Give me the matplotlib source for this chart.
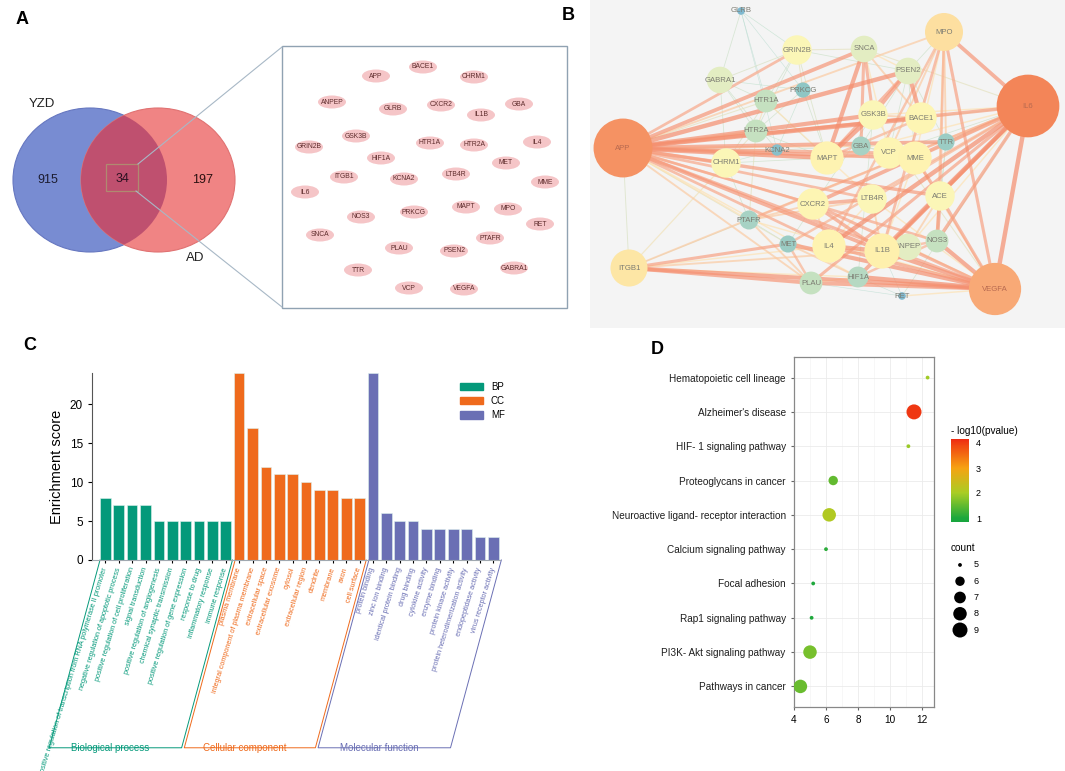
import numpy as np
import matplotlib.pyplot as plt
from matplotlib.patches import Ellipse, Circle, Rectangle, Patch
from matplotlib.colors import LinearSegmentedColormap, Normalize
from matplotlib.cm import ScalarMappable

plt.rcParams['font.family'] = ['Liberation Sans', 'DejaVu Sans']

W, H = 1065, 771

# ---------------- A: Venn diagram ----------------
venn_names = ['YZD', 'AD']
venn_counts = [915, 34, 197]

# the shared targets, laid out as in the figure (pixel layout)
box_genes = ['APP', 'BACE1', 'CHRM1', 'ANPEP', 'GLRB', 'CXCR2', 'IL1B', 'GBA',
             'GSK3B', 'GRIN2B', 'HTR1A', 'HTR2A', 'IL4', 'HIF1A', 'MET', 'ITGB1',
             'KCNA2', 'LTB4R', 'MME', 'IL6', 'MAPT', 'MPO', 'NOS3', 'PRKCG', 'RET',
             'SNCA', 'PTAFR', 'PLAU', 'PSEN2', 'TTR', 'GABRA1', 'VCP', 'VEGFA']
box_x = [376, 423, 474, 332, 393, 441, 481, 519, 356, 309, 430, 474, 537, 381,
         506, 344, 404, 456, 545, 305, 466, 508, 361, 414, 540, 320, 490, 399,
         454, 358, 514, 409, 464]
box_y = [76, 67, 77, 102, 109, 105, 115, 104, 136, 147, 143, 145, 142, 158,
         163, 177, 179, 174, 182, 192, 207, 209, 217, 212, 224, 235, 238, 248,
         251, 270, 268, 288, 289]

# ---------------- B: PPI network ----------------
net_genes = ['GLRB', 'GRIN2B', 'SNCA', 'MPO', 'GABRA1', 'PSEN2', 'PRKCG', 'HTR1A',
             'IL6', 'GSK3B', 'BACE1', 'HTR2A', 'APP', 'KCNA2', 'GBA', 'VCP', 'MME',
             'TTR', 'MAPT', 'CHRM1', 'CXCR2', 'LTB4R', 'ACE', 'PTAFR', 'MET', 'IL4',
             'ANPEP', 'IL1B', 'NOS3', 'ITGB1', 'PLAU', 'HIF1A', 'RET', 'VEGFA']
net_x = [741, 797, 864, 944, 720, 908, 803, 766, 1028, 873, 921, 756, 623, 777,
         861, 889, 915, 946, 827, 726, 813, 872, 940, 749, 788, 829, 908, 882,
         937, 629, 811, 858, 902, 995]
net_y = [11, 50, 49, 32, 80, 71, 90, 101, 106, 115, 118, 131, 148, 150, 146,
         153, 158, 142, 158, 163, 204, 199, 196, 220, 244, 246, 247, 251, 241,
         268, 283, 277, 296, 289]
net_degree = [4, 15.5, 14, 20, 14, 14, 8, 12, 33, 15.5, 16.5, 12, 31, 6, 10,
              16.5, 17.5, 9, 17.5, 15.5, 16.5, 15.5, 15.5, 10, 9, 17.5, 14, 18.5,
              12, 19.5, 12, 11, 4, 27.5]

net_edges = [
    ('APP', 'GSK3B', .95), ('APP', 'BACE1', .98), ('APP', 'MAPT', .97), ('APP', 'PSEN2', .98),
    ('APP', 'SNCA', .9), ('APP', 'IL6', .85), ('APP', 'MME', .9), ('APP', 'VCP', .8),
    ('APP', 'LTB4R', .75), ('APP', 'CXCR2', .7), ('APP', 'IL1B', .9), ('APP', 'VEGFA', .8),
    ('APP', 'IL4', .75), ('APP', 'CHRM1', .8), ('APP', 'GBA', .6), ('APP', 'TTR', .9),
    ('APP', 'ACE', .85), ('APP', 'HTR2A', .6), ('APP', 'NOS3', .75), ('APP', 'MPO', .6),
    ('APP', 'GRIN2B', .75), ('APP', 'PTAFR', .5), ('APP', 'HIF1A', .5), ('APP', 'PLAU', .6),
    ('APP', 'MET', .4), ('APP', 'KCNA2', .3), ('APP', 'HTR1A', .4), ('APP', 'ITGB1', .35),
    ('IL6', 'IL4', .98), ('IL6', 'IL1B', .99), ('IL6', 'VEGFA', .98), ('IL6', 'MPO', .9),
    ('IL6', 'ITGB1', .6), ('IL6', 'CXCR2', .9), ('IL6', 'ACE', .7), ('IL6', 'MAPT', .5),
    ('IL6', 'NOS3', .85), ('IL6', 'HIF1A', .9), ('IL6', 'PLAU', .8), ('IL6', 'MET', .7),
    ('IL6', 'PTAFR', .7), ('IL6', 'TTR', .35), ('IL6', 'BACE1', .4), ('IL6', 'MME', .5),
    ('IL6', 'LTB4R', .7), ('IL6', 'GSK3B', .5), ('IL6', 'ANPEP', .5), ('IL6', 'RET', .3),
    ('IL6', 'SNCA', .4), ('IL6', 'VCP', .3),
    ('VEGFA', 'ITGB1', .95), ('VEGFA', 'HIF1A', .99), ('VEGFA', 'PLAU', .9), ('VEGFA', 'MET', .95),
    ('VEGFA', 'IL1B', .95), ('VEGFA', 'IL4', .85), ('VEGFA', 'NOS3', .95), ('VEGFA', 'ACE', .8),
    ('VEGFA', 'MPO', .8), ('VEGFA', 'CXCR2', .8), ('VEGFA', 'ANPEP', .6), ('VEGFA', 'RET', .5),
    ('VEGFA', 'GSK3B', .4), ('VEGFA', 'LTB4R', .5), ('VEGFA', 'MME', .6), ('VEGFA', 'PTAFR', .5),
    ('ITGB1', 'PLAU', .9), ('ITGB1', 'IL1B', .6), ('ITGB1', 'MET', .8), ('ITGB1', 'HIF1A', .5),
    ('ITGB1', 'CHRM1', .45), ('ITGB1', 'IL4', .5), ('ITGB1', 'PTAFR', .3),
    ('MPO', 'IL1B', .75), ('MPO', 'IL4', .7), ('MPO', 'MME', .5), ('MPO', 'TTR', .6),
    ('MPO', 'ACE', .7), ('MPO', 'VCP', .6), ('MPO', 'NOS3', .6), ('MPO', 'PSEN2', .3),
    ('MAPT', 'GSK3B', .99), ('MAPT', 'SNCA', .95), ('MAPT', 'PSEN2', .8), ('MAPT', 'BACE1', .7),
    ('MAPT', 'VCP', .6), ('GSK3B', 'PSEN2', .9), ('GSK3B', 'SNCA', .8), ('BACE1', 'PSEN2', .95),
    ('BACE1', 'SNCA', .6), ('BACE1', 'GSK3B', .6), ('SNCA', 'PSEN2', .5), ('SNCA', 'GBA', .8),
    ('SNCA', 'VCP', .5), ('IL1B', 'IL4', .95), ('IL1B', 'CXCR2', .85), ('IL1B', 'LTB4R', .6),
    ('IL1B', 'MME', .5), ('IL1B', 'ANPEP', .5), ('IL1B', 'NOS3', .7), ('IL4', 'CXCR2', .6),
    ('IL4', 'LTB4R', .5), ('CXCR2', 'LTB4R', .85), ('CXCR2', 'PTAFR', .6), ('LTB4R', 'PTAFR', .6),
    ('ACE', 'MME', .8), ('ACE', 'NOS3', .9), ('ACE', 'ANPEP', .6), ('ACE', 'IL1B', .5),
    ('PTAFR', 'HTR2A', .4), ('PTAFR', 'CHRM1', .3), ('PTAFR', 'PLAU', .6), ('PLAU', 'MET', .7),
    ('MET', 'HIF1A', .6), ('HIF1A', 'NOS3', .7), ('HIF1A', 'PLAU', .5),
    ('GLRB', 'GABRA1', .3), ('GLRB', 'GRIN2B', .25), ('GLRB', 'HTR1A', .2), ('GLRB', 'PRKCG', .2),
    ('GLRB', 'KCNA2', .2), ('GRIN2B', 'GABRA1', .35), ('GRIN2B', 'PRKCG', .4), ('GRIN2B', 'HTR1A', .3),
    ('GRIN2B', 'HTR2A', .3), ('GRIN2B', 'SNCA', .4), ('GRIN2B', 'PSEN2', .3), ('GRIN2B', 'MAPT', .35),
    ('GABRA1', 'HTR1A', .3), ('GABRA1', 'HTR2A', .3), ('GABRA1', 'CHRM1', .3), ('GABRA1', 'KCNA2', .3),
    ('GABRA1', 'PRKCG', .25), ('HTR1A', 'HTR2A', .45), ('HTR1A', 'CHRM1', .35), ('HTR2A', 'CHRM1', .4),
    ('PRKCG', 'HTR2A', .3), ('PRKCG', 'KCNA2', .25), ('PRKCG', 'MAPT', .3), ('HTR1A', 'MAPT', .3),
    ('CHRM1', 'KCNA2', .25), ('PSEN2', 'VCP', .3), ('PSEN2', 'MME', .3), ('PSEN2', 'GBA', .3),
    ('GBA', 'MME', .3), ('GBA', 'TTR', .25), ('VCP', 'GBA', .3), ('RET', 'PLAU', .2),
    ('RET', 'HIF1A', .2), ('RET', 'IL1B', .2), ('MET', 'PTAFR', .25), ('ACE', 'TTR', .3),
    ('PSEN2', 'TTR', .3), ('MET', 'GSK3B', .3), ('HTR2A', 'MAPT', .3), ('CHRM1', 'MAPT', .3),
    ('KCNA2', 'GBA', .25), ('HIF1A', 'GSK3B', .3), ('TTR', 'NOS3', .25), ('HTR1A', 'LTB4R', .5),
]

# ---------------- C: GO enrichment ----------------
go_groups = ['BP', 'CC', 'MF']
go_group_names = ['Biological process', 'Cellular component', 'Molecular function']
go_colors = ['#04997a', '#ef6a1c', '#6a6fb4']
bp_terms = ['positive regulation of transcription from RNA polymerase II promoter',
            'negative regulation of apoptotic process',
            'positive regulation of cell proliferation', 'signal transduction',
            'positive regulation of angiogenesis', 'chemical synaptic transmission',
            'positive regulation of gene expression', 'response to drug',
            'inflammatory response', 'immune response']
bp_scores = [8, 7, 7, 7, 5, 5, 5, 5, 5, 5]
cc_terms = ['plasma membrane', 'integral component of plasma membrane',
            'extracellular space', 'extracellular exosome', 'cytosol',
            'extracellular region', 'dendrite', 'membrane', 'axon', 'cell surface']
cc_scores = [24, 17, 12, 11, 11, 10, 9, 9, 8, 8]
mf_terms = ['protein binding', 'zinc ion binding', 'identical protein binding',
            'drug binding', 'cytokine activity', 'enzyme binding',
            'protein kinase activity', 'protein heterodimerization activity',
            'endopeptidase activity', 'virus receptor activity']
mf_scores = [24, 6, 5, 5, 4, 4, 4, 4, 3, 3]

# ---------------- D: KEGG bubble ----------------
kegg_terms = ['Hematopoietic cell lineage', "Alzheimer's disease",
              'HIF- 1 signaling pathway', 'Proteoglycans in cancer',
              'Neuroactive ligand- receptor interaction', 'Calcium signaling pathway',
              'Focal adhesion', 'Rap1 signaling pathway', 'PI3K- Akt signaling pathway',
              'Pathways in cancer']
kegg_x = [12.35, 11.5, 11.15, 6.45, 6.2, 6.0, 5.2, 5.1, 5.0, 4.4]
kegg_count = [5, 9, 5, 6, 8, 5, 5, 5, 8, 8]
kegg_logp = [1.95, 4.05, 1.9, 1.5, 2.1, 1.1, 1.0, 1.0, 1.65, 1.55]
size_levels = [5, 6, 7, 8, 9]


fig = plt.figure(figsize=(W / 100, H / 100), dpi=100)


def px_axes(x0, y0, x1, y1, **kw):
    return fig.add_axes([x0 / W, 1 - y1 / H, (x1 - x0) / W, (y1 - y0) / H], **kw)


def letter(x, y, s):
    fig.text(x / W, 1 - y / H, s, fontsize=13, fontweight='bold', ha='center', va='center')


# ===== Panel A =====
axa = px_axes(0, 0, 590, 330)
axa.set_xlim(0, 590)
axa.set_ylim(330, 0)
axa.axis('off')
blue = Ellipse((90, 180), 154, 144, facecolor='#788cd2', edgecolor='#6677c0', lw=0.8)
red = Ellipse((158, 180), 154, 144, facecolor='#f08484', edgecolor='#e07272', lw=0.8)
axa.add_patch(blue)
axa.add_patch(red)
lens = Ellipse((158, 180), 154, 144, facecolor='#bf506f', edgecolor='none')
axa.add_patch(lens)
lens.set_clip_path(blue)
axa.text(48, 180, str(venn_counts[0]), fontsize=9, ha='center', va='center', color='#1c1c30')
axa.text(122, 179, str(venn_counts[1]), fontsize=9, ha='center', va='center', color='#2a1020')
axa.text(203, 180, str(venn_counts[2]), fontsize=9, ha='center', va='center', color='#2a1010')
axa.text(42, 104, venn_names[0], fontsize=9.5, ha='center', va='center', color='#222222')
axa.text(195, 258, venn_names[1], fontsize=9.5, ha='center', va='center', color='#222222')
axa.add_patch(Rectangle((106, 164), 32, 27, fill=False, edgecolor='#b08a70', lw=0.9))
axa.plot([138, 282], [164, 47], color='#a8b8c6', lw=0.8)
axa.plot([136, 282], [191, 307], color='#a8b8c6', lw=0.8)
axa.add_patch(Rectangle((282, 46), 285, 262, fill=False, edgecolor='#90a2b2', lw=1.0))
for g, x, y in zip(box_genes, box_x, box_y):
    axa.add_patch(Ellipse((x, y), 28, 13, facecolor='#f5c5c7', edgecolor='none'))
    axa.text(x, y, g, fontsize=4.9, ha='center', va='center', color='#5e2c2c')
letter(22, 20, 'A')

# ===== Panel B =====
axb = px_axes(590, 0, 1065, 328)
axb.set_facecolor('#f4f4f4')
axb.set_xlim(590, 1065)
axb.set_ylim(328, 0)
axb.set_xticks([])
axb.set_yticks([])
for s in axb.spines.values():
    s.set_visible(False)
pos = {g: (x, y) for g, x, y in zip(net_genes, net_x, net_y)}
edge_cmap = LinearSegmentedColormap.from_list(
    'edge', ['#9fcbe0', '#bfe0cc', '#fde2b4', '#f8a88a', '#f48c6c'])
for a, b, sc in sorted(net_edges, key=lambda e: e[2]):
    (x1, y1), (x2, y2) = pos[a], pos[b]
    axb.plot([x1, x2], [y1, y2], color=edge_cmap(sc), lw=0.3 + 3.0 * sc ** 2,
             alpha=0.7, zorder=1, solid_capstyle='butt')
node_cmap = LinearSegmentedColormap.from_list('node', [
    (0.0, '#7fb9d0'), (0.14, '#8fc6c4'), (0.21, '#a9d3c4'), (0.28, '#c7e2c0'),
    (0.345, '#e3edc2'), (0.40, '#fdf7b6'), (0.50, '#fef1ae'), (0.55, '#fde0a0'),
    (0.80, '#f8ab78'), (1.0, '#f38558')])
node_norm = Normalize(4, 33)
order = np.argsort(net_degree)
for i in order:
    g, x, y, d = net_genes[i], net_x[i], net_y[i], net_degree[i]
    z = 2 + d / 10
    axb.add_patch(Circle((x, y), 0.95 * d, facecolor=node_cmap(node_norm(d)),
                         edgecolor='none', zorder=z))
    tc = '#b86a50' if d > 25 else '#7c7c72'
    axb.text(x, y, g, fontsize=5.6, ha='center', va='center', color=tc, zorder=z + 0.01)
letter(568, 15, 'B')

# ===== Panel C =====
axc = px_axes(92, 373, 500, 560)
scores = bp_scores + cc_scores + mf_scores
terms = bp_terms + cc_terms + mf_terms
xs = np.arange(len(scores))
lab_colors = []
for k, (grp, sc) in enumerate(zip(go_groups, [bp_scores, cc_scores, mf_scores])):
    xi = xs[k * 10:(k + 1) * 10]
    axc.bar(xi, sc, width=0.8, color=go_colors[k], edgecolor='#dff2ee', lw=0.4, label=grp)
    lab_colors += [go_colors[k]] * len(sc)
axc.set_xlim(-1, 29.5)
axc.set_ylim(0, 24)
axc.set_yticks([0, 5, 10, 15, 20])
axc.tick_params(axis='y', labelsize=8.5, length=3, width=0.8)
axc.set_xticks(xs)
axc.set_xticklabels(terms, rotation=73, ha='right', va='center', rotation_mode='anchor',
                    fontsize=5.2)
axc.tick_params(axis='x', length=2.5, width=0.8, pad=3)
for lbl, col in zip(axc.get_xticklabels(), lab_colors):
    lbl.set_color(col)
axc.set_ylabel('Enrichment score', fontsize=10.5)
axc.spines['top'].set_visible(False)
axc.spines['right'].set_visible(False)
axc.spines['bottom'].set_color('#a0a8b0')
axc.spines['left'].set_color('#555555')
axc.legend(handles=[Patch(color=c, label=g) for c, g in zip(go_colors, go_groups)],
           loc='upper left', bbox_to_anchor=(0.88, 1.0), frameon=False, fontsize=7,
           handlelength=2.4, handleheight=0.8, labelspacing=0.45)
bounds = [(-0.4, 9.5), (9.7, 19.5), (19.7, 29.6)]
shift, ybot = 3.8, -24.1
for (l, r), col, name in zip(bounds, go_colors, go_group_names):
    axc.plot([l, l - shift, r - shift, r], [0, ybot, ybot, 0], color=col, lw=0.7,
             clip_on=False)
    axc.text((l + r) / 2 - shift - 0.4, ybot, name, fontsize=7, color=col, ha='center',
             va='center')
letter(30, 345, 'C')

# ===== Panel D =====
axd = px_axes(794, 357, 934, 707)
ypos = np.arange(len(kegg_terms), 0, -1)
p_cmap = LinearSegmentedColormap.from_list('pv', [
    (0.0, '#17a53e'), (0.05, '#1ea83c'), (0.35, '#a9cd24'), (0.65, '#f6a312'),
    (0.95, '#f03e12'), (1.0, '#ee2a12')])
p_norm = Normalize(0.84, 4.16)


def dot_area(c):
    d_px = 3.8 + 11.2 * np.sqrt((np.asarray(c, float) - 5) / 4)
    return (d_px * 0.72) ** 2


axd.scatter(kegg_x, ypos, s=dot_area(kegg_count), c=kegg_logp, cmap=p_cmap, norm=p_norm,
            edgecolors='none', zorder=3)
axd.set_xlim(4, 12.75)
axd.set_ylim(0.4, 10.6)
axd.set_xticks([4, 6, 8, 10, 12])
axd.set_xticks([5, 7, 9, 11], minor=True)
axd.set_yticks(ypos)
axd.set_yticklabels(kegg_terms, color='#1e1e1e')
axd.tick_params(axis='both', which='major', length=2.5, color='#666666', labelsize=7.2)
axd.tick_params(axis='x', which='minor', length=0)
axd.grid(True, which='major', color='#ebebeb', lw=0.6)
axd.grid(True, which='minor', axis='x', color='#f4f4f4', lw=0.5)
axd.set_axisbelow(True)
for s in axd.spines.values():
    s.set_color('#888888')
    s.set_linewidth(0.9)

cax = px_axes(951, 439, 969, 522)
cb = fig.colorbar(ScalarMappable(norm=p_norm, cmap=p_cmap), cax=cax, ticks=[1, 2, 3, 4])
cb.outline.set_visible(False)
cb.ax.tick_params(labelsize=6.5, length=3, color='white', width=0.8, pad=2)
fig.text(951 / W, 1 - 431 / H, '- log10(pvalue)', fontsize=7.2, ha='left', va='center')
fig.text(951 / W, 1 - 548 / H, 'count', fontsize=7.2, ha='left', va='center')
axs = px_axes(950, 556, 1000, 638)
axs.set_xlim(-10, 40)
axs.set_ylim(9.49, 4.45)
axs.axis('off')
axs.scatter([0] * len(size_levels), size_levels, s=dot_area(size_levels), color='black',
            edgecolors='none')
for c in size_levels:
    axs.text(16, c, str(c), fontsize=6.5, ha='center', va='center')
letter(657, 350, 'D')

fig.savefig('out.png', dpi=100)
